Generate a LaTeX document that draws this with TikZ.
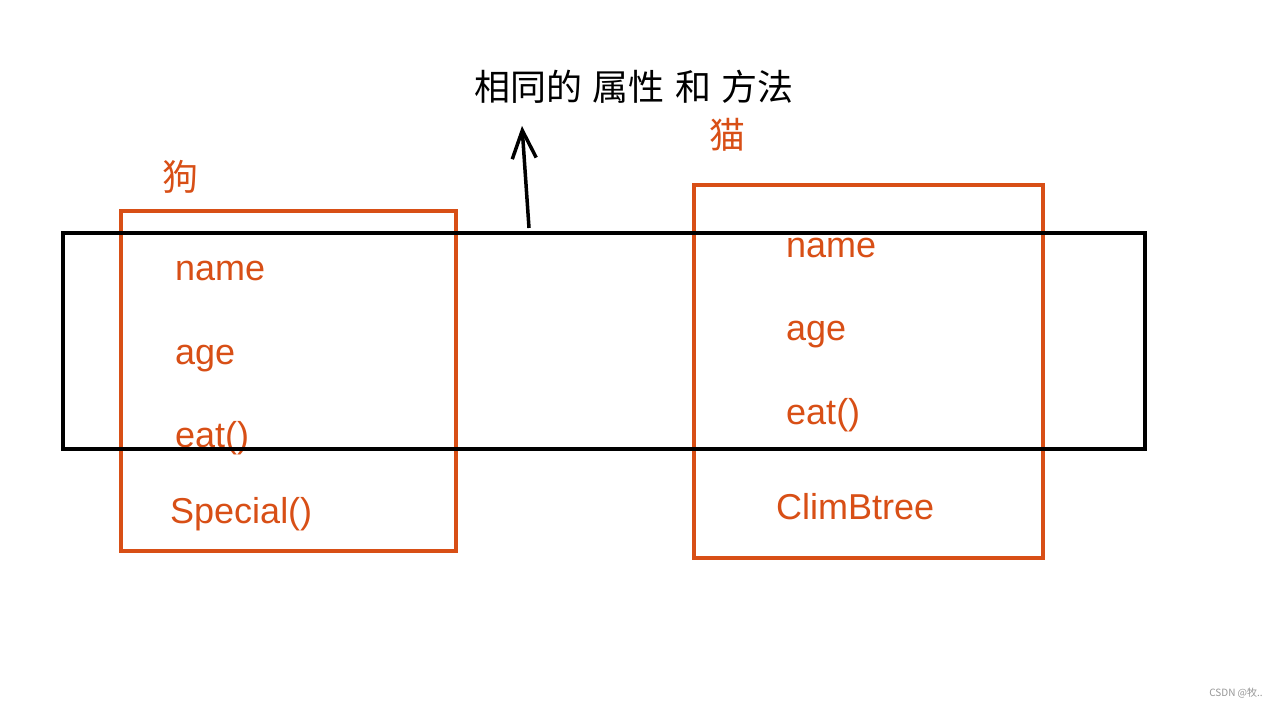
\documentclass[tikz,border=0pt]{standalone}
\usepackage{fontspec}
\setmainfont{Liberation Sans}
\newfontfamily\cjk{Noto Sans CJK SC}
\usetikzlibrary{arrows.meta}
\definecolor{ora}{RGB}{216,79,22}
\definecolor{wm}{RGB}{150,150,150}
\tikzset{
  classbox/.style={draw=ora, line width=3.5pt, fill=none, inner sep=0pt},
  commonbox/.style={draw=black, line width=3.5pt, inner sep=0pt},
  member/.style={text=ora, anchor=base west, inner sep=0pt, font=\fontsize{36}{40}\selectfont},
  cname/.style={text=ora, inner sep=0pt, font=\cjk\fontsize{36}{40}\selectfont},
  title/.style={text=black, inner sep=0pt, font=\cjk\fontsize{36}{40}\selectfont},
  uparrow/.style={draw=black, line width=3.5pt, -{Straight Barb[length=28pt,width=24pt,line width=3.5pt]}}
}
\begin{document}
\begin{tikzpicture}[x=1pt,y=-1pt]
\useasboundingbox[fill=white] (0,0) rectangle (1279,708);
% class boxes
\node[classbox, minimum width=335pt, minimum height=340pt] (dog) at (288.5,381) {};
\node[classbox, minimum width=349pt, minimum height=373pt] (cat) at (868.5,371.5) {};
% class names
\node[cname] (dogname) at (180,177) {狗};
\node[cname] (catname) at (727,135) {猫};
% members of dog
\node[member] (d1) at (175,281) {name};
\node[member] (d2) at (175,364) {age};
\node[member] (d3) at (175,447) {eat()};
\node[member] (d4) at (170,523) {Special()};
% members of cat
\node[member] (c1) at (786,258) {name};
\node[member] (c2) at (786,341) {age};
\node[member] (c3) at (786,424) {eat()};
\node[member] (c4) at (776,519) {ClimBtree};
% common part
\node[commonbox, minimum width=1082pt, minimum height=216pt] (common) at (604,341) {};
% title
\node[title] (title) at (634,87) {相同的\hspace{0.28em}属性\hspace{0.28em}和\hspace{0.28em}方法};
% arrow
\coordinate (afrom) at (529,228);
\coordinate (ato) at (522,126);
\draw[uparrow] (afrom) -- (ato);
% watermark
\node[text=wm, inner sep=0pt, font=\cjk\fontsize{10}{12}\selectfont] (wmark) at (1236,693) {CSDN @牧..};
\end{tikzpicture}
\end{document}
